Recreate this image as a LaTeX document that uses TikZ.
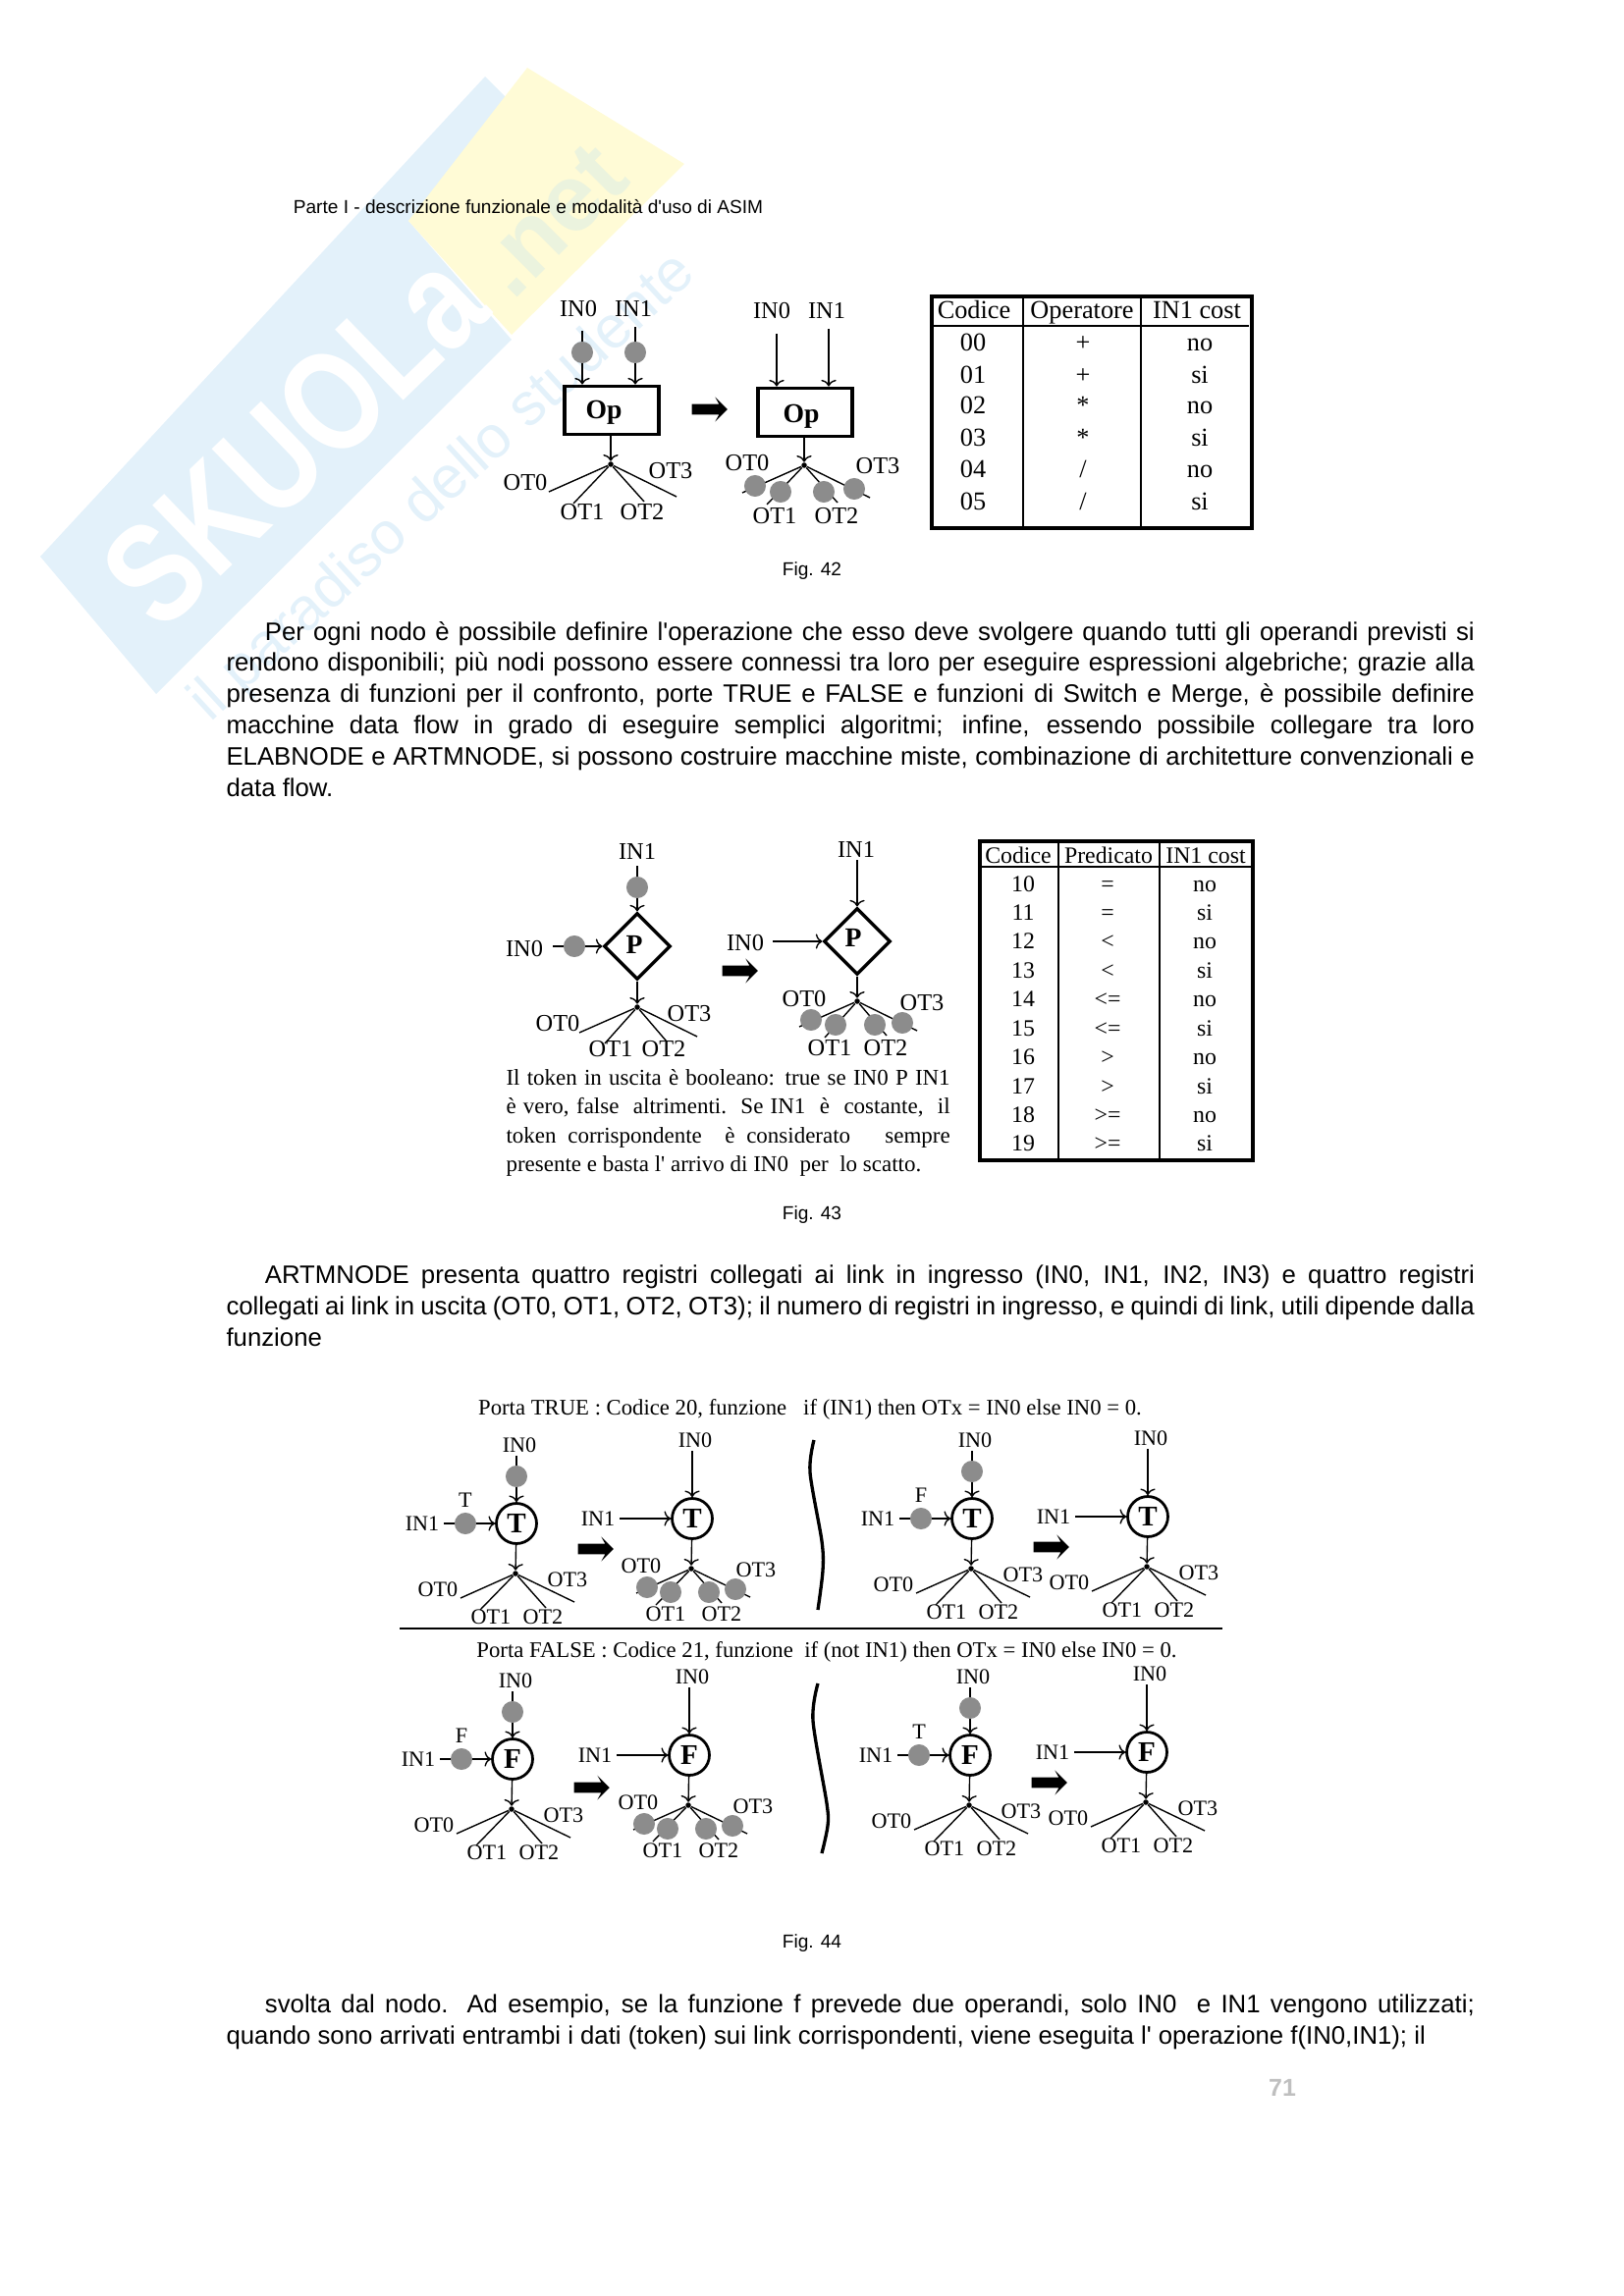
\documentclass[tikz,border=0pt]{standalone}
\usepackage{fontspec}
\usepackage{xcolor}
\usepackage{tikz}
\usetikzlibrary{arrows.meta,shapes.geometric,shapes.arrows}
\newfontfamily\bodyfont{Liberation Sans}
\newfontfamily\figfont{Liberation Serif}
\definecolor{markblue}{RGB}{227,241,250}
\definecolor{markyellow}{RGB}{255,251,214}
\definecolor{marknetcol}{RGB}{235,243,222}
\definecolor{tokengray}{RGB}{140,140,140}
\tikzset{
  >={To[length=2.4pt,width=5.5pt]},
  lab/.style={font=\figfont\fontsize{8.8}{11}\selectfont,inner sep=0pt,text height=6.2pt,text depth=0.2pt},
  glab/.style={font=\figfont\fontsize{8}{10}\selectfont,inner sep=0pt,text height=5.8pt,text depth=0.2pt},
  cella/.style={font=\figfont\fontsize{9.5}{11}\selectfont,inner sep=0pt,text height=6.6pt,text depth=0.2pt},
  cellb/.style={font=\figfont\fontsize{8.6}{11}\selectfont,inner sep=0pt,text height=6.2pt,text depth=0.2pt},
  heading/.style={font=\figfont\fontsize{8.2}{10}\selectfont,inner sep=0pt,text height=6pt,text depth=0.2pt},
  boldlab/.style={font=\figfont\bfseries\fontsize{10}{11}\selectfont,inner sep=0pt},
  para/.style={font=\bodyfont\fontsize{9.3}{11.55}\selectfont,anchor=north west,inner sep=0pt,text width=16.14cm,align=justify},
  note/.style={font=\figfont\fontsize{8.3}{10.6}\selectfont,anchor=north west,inner sep=0pt,text width=5.74cm,align=justify},
  small/.style={font=\bodyfont\fontsize{6.9}{9}\selectfont,inner sep=0pt},
  link/.style={line width=0.5pt},
  token/.style={circle,fill=tokengray,minimum size=0.28cm,inner sep=0pt},
  junction/.style={circle,fill=black,minimum size=0.07cm,inner sep=0pt},
  opbox/.style={draw,line width=1.15pt,minimum width=1.22cm,minimum height=0.63cm,inner sep=0pt},
  predbox/.style={draw,diamond,line width=1.2pt,minimum size=0.86cm,inner sep=0pt},
  gate/.style={draw,circle,line width=1pt,minimum size=0.52cm,inner sep=0pt,font=\figfont\bfseries\fontsize{10.5}{11}\selectfont},
  bigarrow/.style={single arrow,fill=black,inner sep=0.06cm,minimum height=0.46cm,single arrow head extend=0.09cm,single arrow head indent=0.05cm},
}
\begin{document}
\begin{tikzpicture}[x=0.0127cm,y=-0.0127cm]
\useasboundingbox (0,0) rectangle (1653,2339);

% Watermark
\fill[markblue] (41,567) -- (494,78) -- (516,100) -- (416,225) -- (521,346) -- (159,707) -- cycle;
\fill[markyellow] (537,69) -- (697,167) -- (521,341) -- (416,225) -- cycle;
\node[rotate=44,white,font=\bodyfont\bfseries\fontsize{42}{42}\selectfont,inner sep=0pt] (markname) at (299,447) {\scalebox{1}[1.25]{SKUOLa}};
\node[rotate=45,marknetcol,font=\bodyfont\bfseries\fontsize{35}{35}\selectfont,inner sep=0pt] (marknet) at (561,225) {.net};
\node[rotate=42.5,markblue,font=\bodyfont\fontsize{22}{22}\selectfont,inner sep=0pt] (markline) at (452,497) {il paradiso dello studente};

% Page text
\node[small] (header) at (538,211) {Parte I - descrizione funzionale e modalità d'uso di ASIM};
\node[para] (parone) at (230,632.5) {\hspace*{0.5cm}Per ogni nodo è possibile definire l'operazione che esso deve svolgere quando tutti gli operandi previsti si\linebreak rendono disponibili; più nodi possono essere connessi tra loro per eseguire espressioni algebriche; grazie alla\linebreak presenza di funzioni per il confronto, porte TRUE e FALSE e funzioni di Switch e Merge, è possibile definire\linebreak macchine data flow in grado di eseguire semplici algoritmi; infine, essendo possibile collegare tra loro\linebreak ELABNODE e ARTMNODE, si possono costruire macchine miste, combinazione di architetture convenzionali e\linebreak data flow.};
\node[para] (partwo) at (230,1288) {\hspace*{0.5cm}ARTMNODE presenta quattro registri collegati ai link in ingresso (IN0, IN1, IN2, IN3) e quattro registri\linebreak collegati ai link in uscita (OT0, OT1, OT2, OT3); il numero di registri in ingresso, e quindi di link, utili dipende dalla\linebreak funzione};
\node[para] (parthree) at (230,2031) {\hspace*{0.5cm}svolta dal nodo. Ad esempio, se la funzione f prevede due operandi, solo IN0\ \ e IN1 vengono utilizzati;\linebreak quando sono arrivati entrambi i dati (token) sui link corrispondenti, viene eseguita l' operazione f(IN0,IN1); il};
\foreach \nm/\yy/\fignum in {capa/582/42,capb/1238/43,capc/1980/44}
  \node[small] (\nm) at (827,\yy) {Fig. \fignum};
\node[lightgray,font=\bodyfont\bfseries\fontsize{9}{9}\selectfont,inner sep=0pt] (pagenum) at (1306,2127) {71};

% Fig 42: operator nodes
\node[opbox] (opa) at (623,418) {};
\node[boldlab] (opatext) at (615,420) {Op};
\node[opbox] (opb) at (820,420) {};
\node[boldlab] (opbtext) at (816,424) {Op};
\foreach \id/\x/\ytop/\to/\lx/\ly/\txt in {ia/593/337/opa/589/314/IN0,ib/647/333/opa/645/314/IN1,ic/791/340/opb/786/316/IN0,id/844/335/opb/842/316/IN1} {
  \node[lab] (\id-l) at (\lx,\ly) {\txt};
  \coordinate (\id-s) at (\x,\ytop);
  \draw[link,->] (\id-s) -- (\id-s |- \to.north);
}
\foreach \id in {ia,ib}
  \node[token] (\id-t) at (\id-s |- 0,359) {};
\node[junction] (opa-j) at (622,473) {};
\node[junction] (opb-j) at (819,474) {};
\draw[link,->] (opa.south -| opa-j) -- (opa-j);
\draw[link,->] (opb.south -| opb-j) -- (opb-j);
\foreach \lx/\ly/\txt [count=\k] in {535/491/OT0,683/479/OT3,593/521/OT1,654/521/OT2}
  \node[lab] (opa-o\k) at (\lx,\ly) {\txt};
\foreach \lx/\ly/\txt [count=\k] in {761/471/OT0,894/474/OT3,789/525/OT1,852/525/OT2}
  \node[lab] (opb-o\k) at (\lx,\ly) {\txt};
\foreach \jid in {opa,opb}
  \foreach \dx/\dy [count=\k] in {-63/28,-38/40,34/38,67/33} {
    \coordinate (\jid-e\k) at ([shift={(\dx,\dy)}]\jid-j);
    \draw[link] (\jid-j) -- (\jid-e\k);
  }
\foreach \dx/\dy [count=\k] in {-50/21,-24/27,20/27,51/24}
  \node[token] (opb-t\k) at ([shift={(\dx,\dy)}]opb-j) {};
\node[bigarrow] (arra) at (720,417) {};

% Table 42
\draw[line width=1.3pt] (949,302) rectangle (1275,538);
\draw[line width=0.5pt] (949,332) -- (1272,332) (1042,302) -- (1042,538) (1162,302) -- (1162,538);
\node[cella] (ta-h1) at (992,316) {Codice};
\node[cella] (ta-h2) at (1102,316) {Operatore};
\node[cella] (ta-h3) at (1219,316) {IN1 cost};
\foreach \cod/\opr/\cst/\yy in {00/+/no/349,01/+/si/382,02/*/no/413,03/*/si/446,04/{/}/no/478,05/{/}/si/511} {
  \node[cella] (ta-\cod-a) at (991,\yy) {\cod};
  \node[cella] (ta-\cod-b) at (1103,\yy) {\opr};
  \node[cella] (ta-\cod-c) at (1222,\yy) {\cst};
}

% Fig 43: predicate nodes
\node[predbox] (pra) at (649,964) {};
\node[boldlab] (pratext) at (646,962) {P};
\node[predbox] (prb) at (873,959) {};
\node[boldlab] (prbtext) at (869,955) {P};
\node[lab] (pra-u) at (649,867) {IN1};
\node[lab] (pra-v) at (534,966) {IN0};
\node[lab] (prb-u) at (872,865) {IN1};
\node[lab] (prb-v) at (759,960) {IN0};
\coordinate (pra-us) at (649,882);
\coordinate (pra-vs) at (563,964);
\coordinate (prb-us) at (873,876);
\coordinate (prb-vs) at (787,959);
\draw[link,->] (pra-us) -- (pra.north);
\draw[link,->] (pra-vs) -- (pra.west);
\draw[link,->] (prb-us) -- (prb.north);
\draw[link,->] (prb-vs) -- (prb.west);
\node[token] (pra-t1) at (649,904) {};
\node[token] (pra-t2) at (585,964) {};
\node[junction] (pra-j) at (649,1026) {};
\node[junction] (prb-j) at (873,1020) {};
\draw[link,->] (pra.south) -- (pra-j);
\draw[link,->] (prb.south) -- (prb-j);
\foreach \lx/\ly/\txt [count=\k] in {568/1042/OT0,702/1032/OT3,622/1068/OT1,676/1068/OT2}
  \node[lab] (pra-o\k) at (\lx,\ly) {\txt};
\foreach \lx/\ly/\txt [count=\k] in {819/1017/OT0,939/1021/OT3,845/1067/OT1,902/1067/OT2}
  \node[lab] (prb-o\k) at (\lx,\ly) {\txt};
\foreach \jid in {pra,prb}
  \foreach \dx/\dy [count=\k] in {-59/26,-33/37,30/35,61/30} {
    \coordinate (\jid-e\k) at ([shift={(\dx,\dy)}]\jid-j);
    \draw[link] (\jid-j) -- (\jid-e\k);
  }
\foreach \dx/\dy [count=\k] in {-47/19,-22/24,18/24,46/22}
  \node[token] (prb-t\k) at ([shift={(\dx,\dy)}]prb-j) {};
\node[bigarrow] (arrb) at (751,989) {};
\node[note] (notetext) at (515,1089) {Il token in uscita è booleano: true se IN0 P IN1\linebreak è vero, false\ \ altrimenti.\ \ Se IN1\ \ è\ \ costante,\ \ il\linebreak token corrispondente\ \ è considerato\ \ \ sempre\linebreak presente e basta l' arrivo di IN0\ \ per\ \ lo scatto.};

% Table 43
\draw[line width=1.3pt] (998,857) rectangle (1276,1182);
\draw[line width=0.5pt] (998,883) -- (1276,883) (1078,857) -- (1078,1182) (1181,857) -- (1181,1182);
\node[cellb] (tb-h1) at (1037,871) {Codice};
\node[cellb] (tb-h2) at (1129,871) {Predicato};
\node[cellb] (tb-h3) at (1228,871) {IN1 cost};
\foreach \cod/\opr/\cst/\yy in {10/=/no/900,11/=/si/929,12/</no/958,13/</si/988,14/<=/no/1017,15/<=/si/1047,16/>/no/1076,17/>/si/1106,18/>=/no/1135,19/>=/si/1164} {
  \node[cellb] (tb-\cod-a) at (1042,\yy) {\cod};
  \node[cellb] (tb-\cod-b) at (1128,\yy) {\opr};
  \node[cellb] (tb-\cod-c) at (1227,\yy) {\cst};
}

% Fig 44: headings
\node[heading] (headt) at (825,1433) {Porta TRUE : Codice 20, funzione\ \ \ if (IN1) then OTx = IN0 else IN0 = 0.};
\node[heading] (headf) at (842,1680) {Porta FALSE : Codice 21, funzione\ \ if (not IN1) then OTx = IN0 else IN0 = 0.};
\draw[line width=0.7pt] (407,1659) -- (1245,1659);
\draw[line width=1.2pt] plot[smooth] coordinates {(829,1467) (825,1500) (837,1570) (838,1600) (833,1640)};
\draw[line width=1.2pt] plot[smooth] coordinates {(833,1715) (828,1753) (842,1837) (843,1860) (837,1888)};

% Fig 44: gates
\foreach \gid/\cx/\cy/\gl in {ga/526/1552/T,gb/705/1547/T,gc/990/1547/T,gd/1169/1545/T,ge/522/1792/F,gf/702/1788/F,gg/988/1788/F,gh/1168/1785/F} {
  \node[gate] (\gid) at (\cx,\cy) {\gl};
  \node[glab] (\gid-u) at (\cx+3,\cy-80) {IN0};
  \node[glab] (\gid-v) at (\cx-96,\cy) {IN1};
  \coordinate (\gid-us) at (\cx,\cy-69);
  \coordinate (\gid-vs) at (\cx-74,\cy);
  \node[junction] (\gid-j) at (\cx-1,\cy+51) {};
  \draw[link,->] (\gid-us) -- (\gid);
  \draw[link,->] (\gid-vs) -- (\gid);
  \draw[link,->] (\gid) -- (\gid-j);
  \foreach \dx/\dy [count=\k] in {-56/25,-36/37,31/35,60/29} {
    \coordinate (\gid-e\k) at ([shift={(\dx,\dy)}]\gid-j);
    \draw[link] (\gid-j) -- (\gid-e\k);
  }
}
% Tokens waiting at the inputs
\foreach \gid/\mark in {ga/T,gc/F,ge/F,gg/T} {
  \node[token] (\gid-t1) at ([shift={(0,-48)}]\gid) {};
  \node[token] (\gid-t2) at ([shift={(-52,0)}]\gid) {};
  \node[glab] (\gid-m) at ([shift={(-52,-24)}]\gid) {\mark};
}
% Output labels
\foreach \gid in {ga,gc,gd,ge,gg,gh}
  \foreach \dx/\dy/\txt [count=\k] in {-80/67/OT0,52/57/OT3,-26/95/OT1,27/95/OT2}
    \node[glab] (\gid-o\k) at ([shift={(\dx,\dy)}]\gid) {\txt};
\foreach \gid in {gb,gf}
  \foreach \dx/\dy/\txt [count=\k] in {-52/48/OT0,65/52/OT3,-27/97/OT1,30/97/OT2}
    \node[glab] (\gid-o\k) at ([shift={(\dx,\dy)}]\gid) {\txt};
% Tokens after firing
\foreach \gid in {gb,gf}
  \foreach \dx/\dy [count=\k] in {-45/19,-21/24,18/24,45/21}
    \node[token] (\gid-t\k) at ([shift={(\dx,\dy)}]\gid-j) {};
\node[bigarrow] (arrc) at (604,1578) {};
\node[bigarrow] (arrd) at (1068,1576) {};
\node[bigarrow] (arre) at (600,1821) {};
\node[bigarrow] (arrf) at (1066,1816) {};
\end{tikzpicture}
\end{document}
